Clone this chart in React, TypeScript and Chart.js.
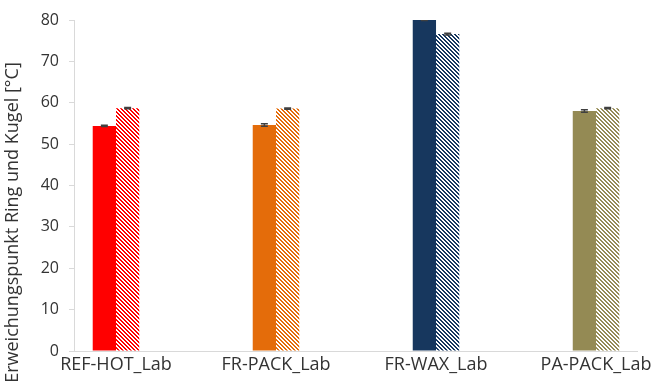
import React, { useEffect, useRef } from "react";
import { Chart, registerables } from "chart.js";

Chart.register(...registerables);

const categories = ["REF-HOT_Lab", "FR-PACK_Lab", "FR-WAX_Lab", "PA-PACK_Lab"];
const solidValues = [54.4, 54.6, 80.0, 58.0];
const hatchedValues = [58.7, 58.6, 76.6, 58.7];
const solidErrors = [0.15, 0.3, 0.1, 0.3];
const hatchedErrors = [0.15, 0.15, 0.2, 0.15];
const categoryColors = ["#FF0000", "#E46C0A", "#17375E", "#948A54"];
const yTickValues = [0, 10, 20, 30, 40, 50, 60, 70, 80];
const yAxisTitle = "Erweichungspunkt Ring und Kugel [°C]";

const FONT = "'Open Sans', sans-serif";

function makeHatch(color: string): CanvasPattern | string {
  const c = document.createElement("canvas");
  c.width = 4;
  c.height = 4;
  const ctx = c.getContext("2d");
  if (!ctx) return color;
  ctx.fillStyle = "#ffffff";
  ctx.fillRect(0, 0, 4, 4);
  ctx.fillStyle = color;
  for (let y = 0; y < 4; y++) {
    for (let x = 0; x < 4; x++) {
      if ((((x - y) % 4) + 4) % 4 < 2) ctx.fillRect(x, y, 1, 1);
    }
  }
  const p = ctx.createPattern(c, "repeat");
  return p || color;
}

const errorBarPlugin = {
  id: "errorBars",
  afterDatasetsDraw(chart: any) {
    const ctx = chart.ctx;
    const yScale = chart.scales.y;
    const area = chart.chartArea;
    const errs = [solidErrors, hatchedErrors];
    const vals = [solidValues, hatchedValues];
    ctx.save();
    ctx.beginPath();
    ctx.rect(area.left, area.top, area.right - area.left, area.bottom - area.top);
    ctx.clip();
    ctx.strokeStyle = "#404040";
    ctx.lineWidth = 1.5;
    chart.data.datasets.forEach((_: any, di: number) => {
      const meta = chart.getDatasetMeta(di);
      meta.data.forEach((el: any, i: number) => {
        const v = vals[di][i];
        const e = errs[di][i];
        const yTop = yScale.getPixelForValue(v + e);
        const yBot = yScale.getPixelForValue(v - e);
        const x = el.x;
        const half = 3.5;
        ctx.beginPath();
        ctx.moveTo(x, yTop);
        ctx.lineTo(x, yBot);
        ctx.moveTo(x - half, yTop);
        ctx.lineTo(x + half, yTop);
        ctx.moveTo(x - half, yBot);
        ctx.lineTo(x + half, yBot);
        ctx.stroke();
      });
    });
    ctx.restore();
  },
};

const yTitlePlugin = {
  id: "yTitle",
  afterDraw(chart: any) {
    const ctx = chart.ctx;
    const area = chart.chartArea;
    ctx.save();
    ctx.translate(18, (area.top + area.bottom) / 2 + 37);
    ctx.rotate(-Math.PI / 2);
    ctx.font = `18px ${FONT}`;
    ctx.fillStyle = "#333333";
    ctx.textAlign = "center";
    ctx.textBaseline = "alphabetic";
    ctx.fillText(yAxisTitle, 0, 0);
    ctx.restore();
  },
};

export default function App() {
  const ref = useRef<HTMLCanvasElement | null>(null);

  useEffect(() => {
    if (!ref.current) return;
    const solidColors = categoryColors;
    const hatchColors = categoryColors.map((c) => makeHatch(c));
    const chart = new Chart(ref.current, {
      type: "bar",
      data: {
        datasets: [
          {
            label: "solid",
            data: solidValues.map((v, i) => ({ x: i, y: v })),
            backgroundColor: solidColors,
            borderWidth: 0,
          },
          {
            label: "hatched",
            data: hatchedValues.map((v, i) => ({ x: i, y: v })),
            backgroundColor: hatchColors as any,
            borderWidth: 0,
          },
        ],
      },
      options: {
        animation: false,
        responsive: false,
        events: [],
        layout: { padding: { top: 20, right: 20, left: 0, bottom: 0 } },
        datasets: {
          bar: { categoryPercentage: 0.291, barPercentage: 1.0 },
        },
        plugins: {
          legend: { display: false },
          tooltip: { enabled: false },
          title: { display: false },
        },
        scales: {
          x: {
            type: "linear",
            min: -0.2625,
            max: 3.256,
            offset: false,
            grid: { display: false, drawTicks: false },
            border: { display: true, color: "#d9d9d9", width: 1 },
            afterBuildTicks: (scale: any) => {
              scale.ticks = categories.map((_, i) => ({ value: i }));
            },
            afterFit: (scale: any) => {
              scale.height = 39;
            },
            ticks: {
              autoSkip: false,
              maxRotation: 0,
              minRotation: 0,
              padding: 3,
              color: "#333333",
              font: { family: FONT, size: 18 },
              callback: (v: any) => categories[Math.round(Number(v))] ?? "",
            },
          },
          y: {
            type: "linear",
            min: 0,
            max: 80,
            afterBuildTicks: (scale: any) => {
              scale.ticks = yTickValues.map((v) => ({ value: v }));
            },
            afterFit: (scale: any) => {
              scale.width = 74;
            },
            grid: {
              drawOnChartArea: false,
              drawTicks: true,
              tickLength: 5,
              color: "#d9d9d9",
            },
            border: { display: true, color: "#d9d9d9", width: 1 },
            ticks: {
              padding: 10,
              color: "#333333",
              font: { family: FONT, size: 16 },
            },
          },
        },
      },
      plugins: [errorBarPlugin, yTitlePlugin],
    });
    return () => chart.destroy();
  }, []);

  return (
    <div style={{ position: "absolute", left: 0, top: 0, width: 657, height: 390 }}>
      <canvas ref={ref} width={657} height={390} />
    </div>
  );
}
